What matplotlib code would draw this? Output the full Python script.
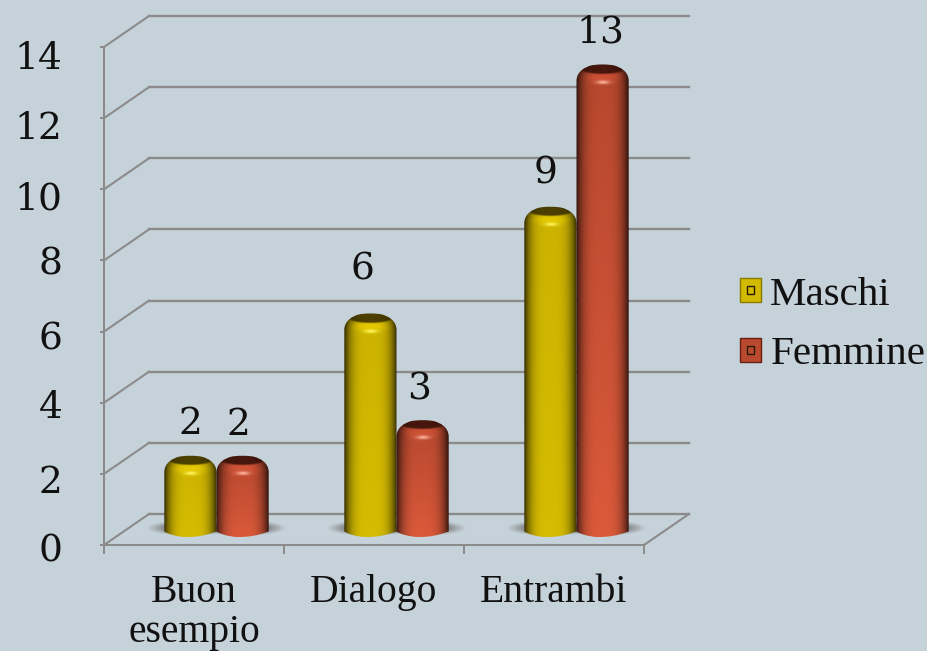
import numpy as np
import matplotlib
matplotlib.use("Agg")
import matplotlib.pyplot as plt
from matplotlib.path import Path
from matplotlib.patches import PathPatch, Rectangle, Patch
from matplotlib.lines import Line2D
from matplotlib.transforms import Affine2D, IdentityTransform
from matplotlib.legend_handler import HandlerPatch

categories = ["Buon\nesempio", "Dialogo", "Entrambi"]
maschi = [2, 6, 9]
femmine = [2, 3, 13]
series_names = ["Maschi", "Femmine"]
y_ticks = [0, 2, 4, 6, 8, 10, 12, 14]

W, H = 928, 651
BG = "#C6D2D9"
GRID = "#8b8b8b"
SERIF = "Liberation Serif"
NUM = "DejaVu Serif"

fig = plt.figure(figsize=(W / 100, H / 100), dpi=100, facecolor=BG)
ax = fig.add_axes([104 / W, (H - 545) / H, 540 / W, 498 / H])
ax.set_facecolor("none")
ax.set_xlim(0, 3)
ax.set_ylim(0, 14)
for s in ("top", "right"):
    ax.spines[s].set_visible(False)
for s in ("left", "bottom"):
    ax.spines[s].set_color(GRID)
    ax.spines[s].set_linewidth(1.5)


def depth(d):
    return ax.transData + Affine2D().translate(45 * d, 31 * d)


def seg(x, v, d0=0.0, d1=1.0, lw=1.5):
    a = depth(d0).transform((x, v))
    b = depth(d1).transform((x, v))
    ax.add_line(Line2D([a[0], b[0]], [a[1], b[1]], transform=IdentityTransform(),
                       color=GRID, lw=lw, clip_on=False, zorder=1))


for v in y_ticks:
    ax.plot([0, 3], [v, v], transform=depth(1), color=GRID, lw=1.7, clip_on=False, zorder=1)
    seg(0, v)
seg(3, 0)

ax.set_xticks([0, 1, 2, 3])
ax.set_xticklabels([])
ax.tick_params(axis="x", length=6.5, width=1.4, color=GRID)
ax.set_yticks(y_ticks)
ax.tick_params(axis="y", length=3, width=1.4, color=GRID, pad=27)
ax.set_yticklabels([str(v) for v in y_ticks], fontsize=27, family=NUM, color="#111111")
label_shift = [-2, -5, -1, -4, 0, -6, -7, -8]
for lab, dy in zip(ax.get_yticklabels(), label_shift):
    lab.set_transform(lab.get_transform() + Affine2D().translate(0, dy))

for i, c in enumerate(categories):
    ax.text(i + 0.5, 0, c, ha="center", va="top", family=SERIF,
            fontsize=28.5, color="#111111", linespacing=1.1
            ).set_transform(ax.transData + Affine2D().translate(0, -29))


def shadow(cx, cy, w=44, h=16):
    xs = np.linspace(-1, 1, 180)
    ys = np.linspace(-1, 1, 40)
    X, Y = np.meshgrid(xs, ys)
    r = np.sqrt(X ** 2 + Y ** 2)
    a = np.clip((1 - r) * 2.2, 0, 1) ** 1.1 * 0.8
    img = np.zeros(X.shape + (4,))
    img[..., :3] = 0.42
    img[..., 3] = a
    im = ax.imshow(img, extent=(cx - w, cx + w, cy - h / 2, cy + h / 2), transform=IdentityTransform(),
                   aspect="auto", zorder=2, interpolation="bilinear")
    im.set_clip_on(False)


def cylinder(xc, v, base, mid, cap, hi):
    d = depth(0.5)
    half = 0.145 * 180
    cx, top = d.transform((xc, v))
    _, bot = d.transform((xc, 0))
    top += 3
    bot_c = bot - 7.5
    bot_s = bot - 2
    x0, x1 = cx - half, cx + half
    verts = [(x0, bot_s), (x0, top - 17),
             (x0, top - 7), (x0 + 9, top - 3), (cx - 12, top - 1.5),
             (cx - 6, top), (cx + 6, top), (cx + 12, top - 1.5),
             (x1 - 9, top - 3), (x1, top - 7), (x1, top - 17),
             (x1, bot_s),
             (x1 - 12, bot_s - 4), (cx + 8, bot_c), (cx - 4, bot_c),
             (x0 + 12, bot_c), (x0 + 3, bot_s - 2), (x0, bot_s), (x0, bot_s)]
    codes = [Path.MOVETO, Path.LINETO,
             Path.CURVE4, Path.CURVE4, Path.CURVE4,
             Path.CURVE4, Path.CURVE4, Path.CURVE4,
             Path.CURVE4, Path.CURVE4, Path.CURVE4,
             Path.LINETO,
             Path.CURVE4, Path.CURVE4, Path.CURVE4,
             Path.CURVE4, Path.CURVE4, Path.CURVE4, Path.CLOSEPOLY]
    clip = PathPatch(Path(verts, codes), transform=IdentityTransform(), fc="none", ec="none", zorder=3)
    ax.add_patch(clip)

    nw, nh = int(2 * half) * 2, int(top - bot_c) * 2
    u = np.linspace(-1, 1, nw)
    t = np.linspace(0, top - bot_c, nh)
    U, T = np.meshgrid(u, t)
    # horizontal cylinder shading
    s = 1 - np.abs(U) ** 3.6
    s = 0.24 + 0.76 * np.clip(s, 0, 1) ** 1.0
    # colour runs from base at the top to mid at the foot
    frac = (T / T.max())[..., None]
    col = np.array(base)[None, None, :] * (1 - frac) + np.array(mid)[None, None, :] * frac
    img = col * s[..., None]
    # rim band below the cap
    band = np.exp(-((T - 13) / 5.0) ** 2)[..., None]
    img = img * (1 + 0.12 * band)
    # dark cap
    e = (U / 0.9) ** 2 + ((T - 3.5) / 6.0) ** 2
    k = np.clip((1.25 - e) * 2.2, 0, 1)[..., None]
    img = img * (1 - k) + np.array(cap)[None, None, :] * k
    # darkening on the shoulders
    sh = np.clip((22 - T) / 22, 0, 1) * np.abs(U) ** 2.5
    img = img * (1 - 0.55 * sh[..., None])
    # specular highlight
    g = np.exp(-((U - 0.02) / 0.25) ** 2 - ((T - 18) / 1.8) ** 2)[..., None]
    img = img * (1 - g) + np.array(hi)[None, None, :] * g
    img = np.clip(img, 0, 1)
    im = ax.imshow(img, extent=(x0, x1, bot_c, top), transform=IdentityTransform(),
                   aspect="auto", zorder=3, interpolation="bilinear")
    im.set_clip_path(clip)
    return cx, top


YEL = dict(base=(0.80, 0.70, 0.0), mid=(0.84, 0.74, 0.0), cap=(0.30, 0.25, 0.0), hi=(1.0, 0.96, 0.35))
RED = dict(base=(0.71, 0.28, 0.18), mid=(0.86, 0.35, 0.23), cap=(0.28, 0.09, 0.05), hi=(1.0, 0.70, 0.62))

label_off_m = [(0, 31), (-8, 44), (-5, 33)]
label_off_f = [(-4, 30), (-4, 30), (-2, 32)]

d05 = depth(0.5)
for i in range(len(categories)):
    for xc in (i + 0.355, i + 0.645):
        cx, cy = d05.transform((xc, 0))
        shadow(cx, cy + 1)
for i, (m, f) in enumerate(zip(maschi, femmine)):
    for xc, v, st, off in ((i + 0.355, m, YEL, label_off_m[i]), (i + 0.645, f, RED, label_off_f[i])):
        cx, top = cylinder(xc, v, **st)
        ax.text(cx + off[0], top + off[1], str(v), transform=IdentityTransform(), ha="center",
                va="center", family=NUM, fontsize=27, color="#111111", zorder=5, clip_on=False)

ax.set_xlim(0, 3)
ax.set_ylim(0, 14)


class SquareHandler(HandlerPatch):
    def create_artists(self, legend, orig, xd, yd, width, height, fontsize, trans):
        outer = Rectangle((-xd, -yd), width, height, fc=orig.get_facecolor(), ec=orig.get_edgecolor(),
                          lw=1.0, transform=trans)
        cw, ch = width * 0.33, height * 0.33
        inner = Rectangle((-xd + width / 2 - cw / 2, -yd + height / 2 - ch / 2), cw, ch,
                          fc="none", ec="#2a1a00", lw=1.0, transform=trans)
        return [outer, inner]


handles = [Patch(fc="#D2BA00", ec="#8a7a00"), Patch(fc="#B94A30", ec="#6a2010")]
leg = fig.legend(handles, series_names, loc="center left", bbox_to_anchor=(740 / W, (H - 325) / H),
                 frameon=False, borderpad=0, borderaxespad=0, handlelength=0.52, handleheight=0.52,
                 handletextpad=0.22, labelspacing=0.55,
                 prop={"family": SERIF, "size": 29.5},
                 handler_map={Patch: SquareHandler()}, labelcolor="#111111")

fig.savefig("out.png", dpi=100, facecolor=BG)
